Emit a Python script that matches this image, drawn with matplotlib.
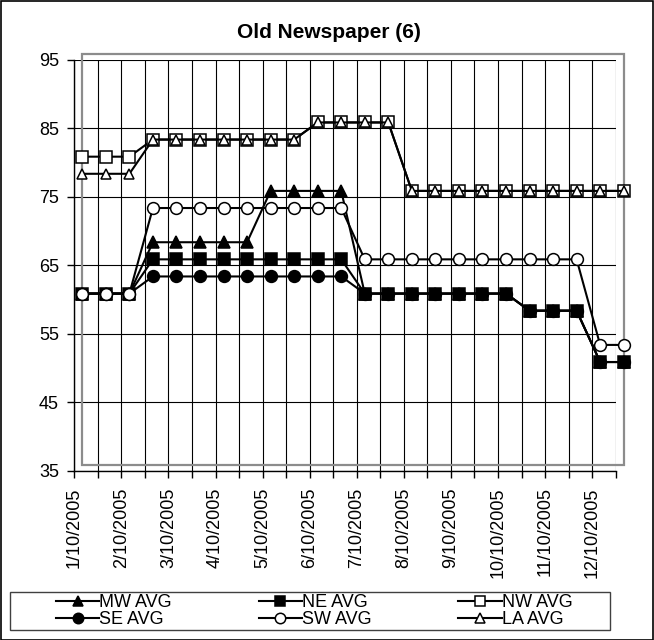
import matplotlib
matplotlib.use('Agg')
import matplotlib.pyplot as plt
from matplotlib.transforms import ScaledTranslation
from matplotlib.patches import Rectangle
from matplotlib.lines import Line2D

plt.rcParams['font.family'] = ['Liberation Sans', 'DejaVu Sans']

# ---- data ----
month_labels = ["1/10/2005", "2/10/2005", "3/10/2005", "4/10/2005", "5/10/2005", "6/10/2005",
                "7/10/2005", "8/10/2005", "9/10/2005", "10/10/2005", "11/10/2005", "12/10/2005"]
n_points = 24
mw = [60, 60, 60, 67.5, 67.5, 67.5, 67.5, 67.5, 75, 75, 75, 75,
      60, 60, 60, 60, 60, 60, 60, 57.5, 57.5, 57.5, 50, 50]
ne = [60, 60, 60, 65, 65, 65, 65, 65, 65, 65, 65, 65,
      60, 60, 60, 60, 60, 60, 60, 57.5, 57.5, 57.5, 50, 50]
nw = [80, 80, 80, 82.5, 82.5, 82.5, 82.5, 82.5, 82.5, 82.5, 85, 85,
      85, 85, 75, 75, 75, 75, 75, 75, 75, 75, 75, 75]
se = [60, 60, 60, 62.5, 62.5, 62.5, 62.5, 62.5, 62.5, 62.5, 62.5, 62.5,
      60, 60, 60, 60, 60, 60, 60, 57.5, 57.5, 57.5, 50, 50]
sw = [60, 60, 60, 72.5, 72.5, 72.5, 72.5, 72.5, 72.5, 72.5, 72.5, 72.5,
      65, 65, 65, 65, 65, 65, 65, 65, 65, 65, 52.5, 52.5]
la = [77.5, 77.5, 77.5, 82.5, 82.5, 82.5, 82.5, 82.5, 82.5, 82.5, 85, 85,
      85, 85, 75, 75, 75, 75, 75, 75, 75, 75, 75, 75]
y_ticks = [35, 45, 55, 65, 75, 85, 95]

W, H = 654, 640
fig = plt.figure(figsize=(W / 100, H / 100), dpi=100)
ax = fig.add_axes([74.3 / W, 1 - 470.7 / H, (615.7 - 74.3) / W, (470.7 - 60) / H])
ax.set_xlim(0, n_points - 1)
ax.set_ylim(y_ticks[0], y_ticks[-1])
ax.set_xticks(range(n_points))
ax.set_xticklabels([month_labels[i // 2] if i % 2 == 0 else '' for i in range(n_points)],
                   rotation=90)
ax.set_yticks(y_ticks)
ax.tick_params(axis='both', direction='out', length=5, width=1, color='black', labelsize=13)
ax.tick_params(axis='y', pad=6)
ax.tick_params(axis='x', pad=7)
ax.grid(True, color='black', linewidth=0.8)
ax.set_axisbelow(True)
for s in ['top', 'right']:
    ax.spines[s].set_visible(False)
for s in ['left', 'bottom']:
    ax.spines[s].set_linewidth(1)
    ax.spines[s].set_color('black')

# depth offset (Excel-like back plane)
offset = ax.transData + ScaledTranslation(8 / 100, 6 / 100, fig.dpi_scale_trans)
frame = Rectangle((0, y_ticks[0]), n_points - 1, y_ticks[-1] - y_ticks[0], transform=offset,
                  fill=False, edgecolor='#8c8c8c', linewidth=1.6, clip_on=False, zorder=1.5)
ax.add_patch(frame)

styles = [
    ('MW AVG', mw, '^', 'black', 8.5),
    ('NE AVG', ne, 's', 'black', 8.0),
    ('NW AVG', nw, 's', 'white', 8.5),
    ('SE AVG', se, 'o', 'black', 8.5),
    ('SW AVG', sw, 'o', 'white', 8.5),
    ('LA AVG', la, '^', 'white', 7.5),
]
x = list(range(n_points))
handles = {}
for i, (name, vals, mk, fc, ms) in enumerate(styles):
    ax.plot(x, vals, color='black', linewidth=1.5, marker=mk, markersize=ms,
            markerfacecolor=fc, markeredgecolor='black', markeredgewidth=1.1,
            transform=offset, clip_on=False, zorder=3 + i)
    handles[name] = Line2D([], [], color='black', linewidth=1.5, marker=mk, markersize=ms - 1,
                           markerfacecolor=fc, markeredgecolor='black', markeredgewidth=1.1)

order = ['MW AVG', 'SE AVG', 'NE AVG', 'SW AVG', 'NW AVG', 'LA AVG']
fig.legend([handles[k] for k in order], order, ncol=3, loc='upper left',
           bbox_to_anchor=(56 / W, 1 - 594 / H), frameon=False, borderpad=0,
           borderaxespad=0, handlelength=2.4, handletextpad=0.0, columnspacing=4.8,
           labelspacing=0.02, fontsize=13)

fig.patches.append(Rectangle((10 / W, 1 - 630 / H), 600 / W, 38 / H, transform=fig.transFigure,
                             fill=False, edgecolor='#404040', linewidth=1))
fig.patches.append(Rectangle((0.5 / W, 0.5 / H), 1 - 1.5 / W, 1 - 1.5 / H,
                             transform=fig.transFigure, fill=False, edgecolor='black',
                             linewidth=1.2))

fig.text(0.503, 1 - 33 / H, 'Old Newspaper (6)', ha='center', va='center',
         fontsize=15, fontweight='bold')

fig.savefig('out.png', dpi=100)
